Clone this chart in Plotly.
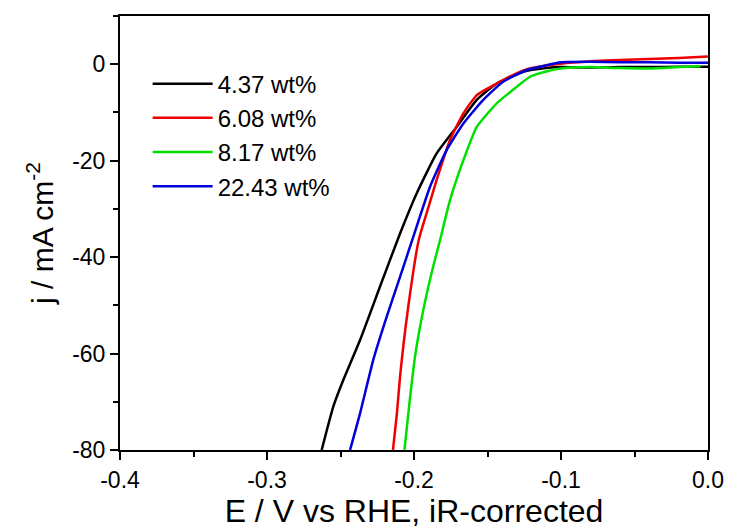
import plotly.graph_objects as go

labels = ["4.37 wt%", "6.08 wt%", "8.17 wt%", "22.43 wt%"]
colors = ["#000000", "#ee0000", "#00e000", "#0000dd"]

x_437 = [-0.2628, -0.2549, -0.2481, -0.2367, -0.2231, -0.2095, -0.1982, -0.1846, -0.1710, -0.1573,
         -0.1437, -0.1256, -0.11, -0.10, -0.08, -0.06, -0.04, -0.02, 0.0]
y_437 = [-80, -71.0, -65.5, -57.2, -46.1, -35.1, -26.8, -18.5, -13.0, -7.4,
         -4.0, -1.55, -0.8, -0.6, -0.7, -0.6, -0.6, -0.5, -0.5]

x_608 = [-0.2143, -0.2115, -0.2095, -0.2040, -0.1968, -0.1900, -0.1846, -0.1755, -0.1664, -0.1573,
         -0.1437, -0.1324, -0.12, -0.10, -0.08, -0.06, -0.04, -0.02, 0.0]
y_608 = [-80, -72, -64.8, -50.5, -36.5, -29.5, -24.0, -15.7, -10.2, -6.4,
         -4.0, -2.2, -0.8, 0.1, 0.6, 0.9, 1.1, 1.3, 1.6]

x_817 = [-0.2065, -0.2030, -0.1990, -0.1930, -0.1870, -0.1823, -0.1755, -0.1664, -0.1573, -0.1437,
         -0.1301, -0.1211, -0.11, -0.10, -0.08, -0.06, -0.04, -0.02, -0.005]
y_817 = [-80, -70, -60, -50, -42, -36.5, -28.2, -19.9, -13.0, -8.1,
         -4.7, -2.6, -1.5, -0.9, -0.6, -0.8, -0.9, -0.6, -0.4]

x_2243 = [-0.2435, -0.2367, -0.2277, -0.2186, -0.2095, -0.2005, -0.1891, -0.1778, -0.1664, -0.1529,
          -0.1392, -0.1233, -0.11, -0.10, -0.08, -0.06, -0.04, -0.02, 0.0]
y_2243 = [-80, -72.4, -61.3, -52.4, -44.1, -35.8, -25.4, -17.8, -12.3, -7.4,
          -3.6, -1.2, -0.2, 0.4, 0.5, 0.4, 0.4, 0.3, 0.3]

series_x = [x_437, x_608, x_817, x_2243]
series_y = [y_437, y_608, y_817, y_2243]

x_tickvals = [-0.4, -0.3, -0.2, -0.1, 0.0]
x_ticktext = ["-0.4", "-0.3", "-0.2", "-0.1", "0.0"]
y_tickvals = [-80, -60, -40, -20, 0]
y_ticktext = ["-80", "-60", "-40", "-20", "0"]

FONT = "Liberation Sans, Arial, sans-serif"

fig = go.Figure()
for i, (xs, ys) in enumerate(zip(series_x, series_y)):
    fig.add_trace(go.Scatter(x=xs, y=ys, mode="lines", name=labels[i],
                             legendgroup=f"g{i}",
                             line=dict(color=colors[i], width=2.5, shape="spline", smoothing=0.5)))

axis_common = dict(showline=True, linecolor="black", linewidth=2, mirror=True,
                   ticks="outside", tickcolor="black", tickwidth=2, ticklen=8,
                   showgrid=False, zeroline=False, automargin=False,
                   tickfont=dict(family=FONT, size=23, color="black"))

fig.update_xaxes(range=[-0.4, 0.0], tickvals=x_tickvals, ticktext=x_ticktext,
                 minor=dict(dtick=0.05, ticks="outside", ticklen=5, tickwidth=2, tickcolor="black"),
                 title=dict(text="E / V vs RHE, iR-corrected",
                            font=dict(family=FONT, size=32, color="black"), standoff=7),
                 **axis_common)
fig.update_yaxes(range=[-80, 10], tickvals=y_tickvals, ticktext=y_ticktext,
                 minor=dict(dtick=10, ticks="outside", ticklen=5, tickwidth=2, tickcolor="black"),
                 title=dict(text="j / mA cm<sup>-2</sup>",
                            font=dict(family=FONT, size=30, color="black"), standoff=10),
                 **axis_common)

fig.update_layout(
    width=732, height=531,
    margin=dict(l=120, r=24, t=16, b=81),
    plot_bgcolor="white", paper_bgcolor="white",
    legend=dict(x=0.047, y=0.895, xanchor="left", yanchor="top",
                bgcolor="rgba(0,0,0,0)", tracegroupgap=0, itemwidth=60,
                font=dict(family=FONT, size=24, color="black")),
)

fig.write_html("out.html")
